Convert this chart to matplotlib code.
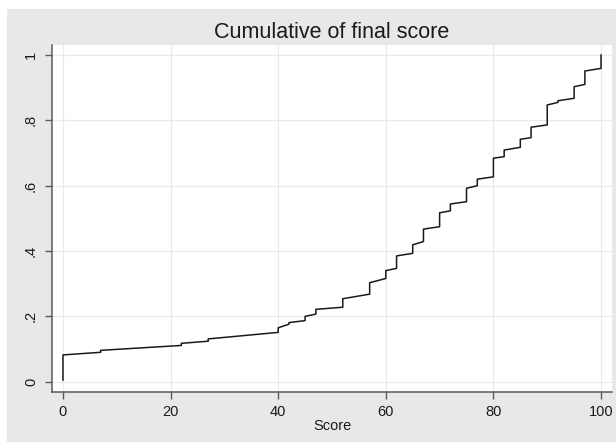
import matplotlib
matplotlib.use("Agg")
import matplotlib.pyplot as plt
from matplotlib.patches import Rectangle

# vertices of the cumulative line (score, cumulative share)
score = [0, 0, 7, 7, 22, 22, 27, 27, 40, 40, 42, 42, 45, 45, 47, 47,
         52, 52, 57, 57, 60, 60, 62, 62, 65, 65, 67, 67, 70, 70, 72, 72,
         75, 75, 77, 77, 80, 80, 82, 82, 85, 85, 87, 87, 90, 90, 92, 92,
         95, 95, 97, 97, 100, 100]
cum = [0.005, 0.082, 0.090, 0.096, 0.111, 0.1175, 0.124, 0.131, 0.151, 0.165,
       0.176, 0.181, 0.187, 0.200, 0.207, 0.2215, 0.228, 0.254, 0.268, 0.303,
       0.316, 0.340, 0.347, 0.385, 0.393, 0.419, 0.429, 0.467, 0.4745, 0.517,
       0.523, 0.544, 0.551, 0.592, 0.600, 0.620, 0.627, 0.684, 0.689, 0.709,
       0.7175, 0.742, 0.747, 0.779, 0.786, 0.847, 0.855, 0.860, 0.8675, 0.903,
       0.910, 0.951, 0.959, 1.0]

x_ticks = [0, 20, 40, 60, 80, 100]
y_ticks = [0, 0.2, 0.4, 0.6, 0.8, 1.0]
y_tick_labels = ["0", ".2", ".4", ".6", ".8", "1"]

W, H = 616, 442
plt.rcParams["font.family"] = ["Liberation Sans", "DejaVu Sans"]

fig = plt.figure(figsize=(W / 100, H / 100), dpi=100, facecolor="white")
# grey outer region (Stata style graph region), kept behind the axes
fig.patches.append(Rectangle((7 / W, 0), 1 - 7 / W, (H - 9) / H,
                             transform=fig.transFigure, facecolor="#e8e8e8",
                             edgecolor="none", zorder=-10))

ax = fig.add_axes([52 / W, (H - 392) / H, (612 - 52) / W, (392 - 45) / H])
ax.set_zorder(1)
ax.set_facecolor("white")
ax.plot(score, cum, color="#1a1a1a", linewidth=1.1, zorder=3)

ax.set_xlim(-2.04, 102.04)
ax.set_ylim(-0.0315, 1.0306)
ax.set_xticks(x_ticks)
ax.set_yticks(y_ticks)
ax.set_yticklabels(y_tick_labels, rotation=90, va="center")
ax.grid(True, color="#eaeaea", linewidth=0.9, zorder=0)

for side in ["top", "right"]:
    ax.spines[side].set_visible(False)
for side in ["left", "bottom"]:
    ax.spines[side].set_color("#5a5a5a")
    ax.spines[side].set_linewidth(1.1)
ax.tick_params(axis="both", length=5, width=1.0, color="#5a5a5a",
               labelsize=10.5, labelcolor="#1a1a1a")
ax.tick_params(axis="x", pad=4)
ax.tick_params(axis="y", pad=5)

ax.set_xlabel("Score", fontsize=10.5, color="#1a1a1a", labelpad=0)
fig.text((52 + 612) / 2 / W, (H - 32) / H, "Cumulative of final score",
         ha="center", va="center", fontsize=15.5, color="#1a1a1a", zorder=2)

fig.savefig("out.png", dpi=100, facecolor=fig.get_facecolor())
